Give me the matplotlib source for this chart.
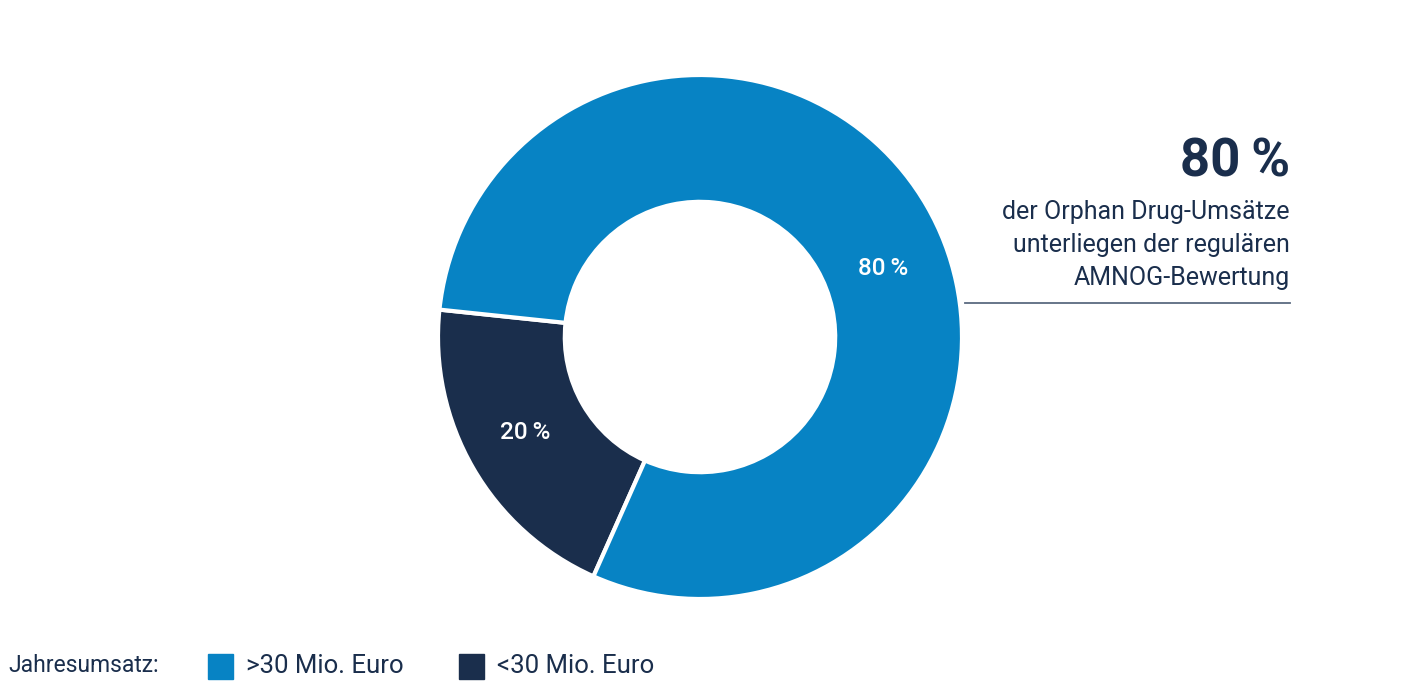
import matplotlib.pyplot as plt
from matplotlib.patches import Rectangle

# ---------- DATA ----------
labels = ['<30 Mio. Euro', '>30 Mio. Euro']
shares = [20, 80]
colors = ['#1a2e4c', '#0783c4']
legend_title = 'Jahresumsatz:'
legend_labels = ['>30 Mio. Euro', '<30 Mio. Euro']
legend_colors = ['#0783c4', '#1a2e4c']
note_big = '80\u2009%'
note_text = ['der Orphan Drug-Umsätze', 'unterliegen der regulären', 'AMNOG-Bewertung']

plt.rcParams['font.family'] = ['Roboto', 'DejaVu Sans']
W, H = 1401, 700
fig = plt.figure(figsize=(W / 100, H / 100), dpi=100)

# donut: centre (700, 337) px, outer radius 262 px
cx, cy, r = 700, 337, 262
ax = fig.add_axes([(cx - r) / W, (H - cy - r) / H, 2 * r / W, 2 * r / H])
wedges, _ = ax.pie(shares, colors=colors, startangle=174, counterclock=True,
                   radius=1, wedgeprops=dict(width=0.484, edgecolor='white', linewidth=3))
ax.set_xlim(-1, 1)
ax.set_ylim(-1, 1)
ax.set_aspect('equal')
ax.axis('off')

# labels inside the ring
ax.text(-0.667, -0.366, f'{shares[0]}\u2009%', color='white', fontsize=17.5,
        fontweight='medium', ha='center', va='center')
ax.text(0.698, 0.26, f'{shares[1]}\u2009%', color='white', fontsize=17.5,
        fontweight='medium', ha='center', va='center')

# annotation on the right
fig.text(1290 / W, 1 - 162 / H, note_big, color='#1a2e4c', fontsize=38,
         fontweight='bold', ha='right', va='center')
for i, line in enumerate(note_text):
    fig.text(1290 / W, 1 - (212 + 33 * i) / H, line, color='#1a2e4c', fontsize=18,
             ha='right', va='center')
fig.add_artist(plt.Line2D([965 / W, 1290 / W], [1 - 303 / H, 1 - 303 / H],
                          color='#5a6a80', linewidth=1.3, transform=fig.transFigure))

# legend
fig.text(8 / W, 1 - 666 / H, legend_title, color='#1a2e4c', fontsize=16.5,
         ha='left', va='center')
for x0, lab, col in zip([208, 459], legend_labels, legend_colors):
    fig.add_artist(Rectangle((x0 / W, 1 - 679 / H), 25 / W, 25 / H, color=col,
                             transform=fig.transFigure))
    fig.text((x0 + 38) / W, 1 - 666 / H, lab, color='#1a2e4c', fontsize=18.5,
             ha='left', va='center')

fig.savefig('out.png', dpi=100)
